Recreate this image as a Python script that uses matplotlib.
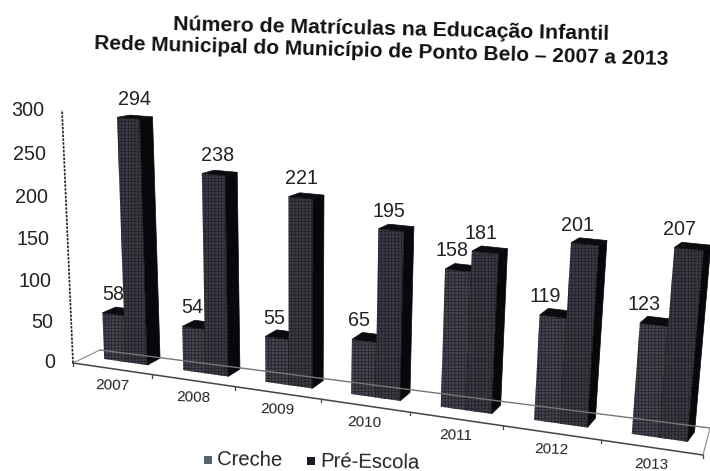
import numpy as np
import matplotlib
matplotlib.use('Agg')
import matplotlib.pyplot as plt

plt.rcParams['font.family'] = ['Liberation Sans', 'DejaVu Sans']
plt.rcParams['hatch.linewidth'] = 0.5

years = ['2007', '2008', '2009', '2010', '2011', '2012', '2013']
creche = [58, 54, 55, 65, 158, 119, 123]
pre_escola = [294, 238, 221, 195, 181, 201, 207]
y_ticks = [0, 50, 100, 150, 200, 250, 300]
title_1 = 'Número de Matrículas na Educação Infantil'
title_2 = 'Rede Municipal do Município de Ponto Belo – 2007 a 2013'

# the chart was photographed at an angle, so everything goes through a homography
src = [(0, 0), (1, 0), (0, 1), (1, 1)]
dst = [(73, 363), (703, 455), (62, 110), (729, 165)]

# how far "depth" moves a point, at the left and right end of the floor
bar_depth = ((27, -13), (14, -20))
floor_depth = ((27, -13), (7, -27))
bar_scale = 0.98


def solve_h(src, dst):
    A = []
    b = []
    for (u, v), (x, y) in zip(src, dst):
        A.append([u, v, 1, 0, 0, 0, -u * x, -v * x])
        A.append([0, 0, 0, u, v, 1, -u * y, -v * y])
        b += [x, y]
    h = np.linalg.solve(np.array(A, float), np.array(b, float))
    return np.append(h, 1).reshape(3, 3)


H = solve_h(src, dst)


def project(pos, val, depth=0.0, vec=bar_depth):
    # pos in category units, val in chart units, depth 0 front to 1 back
    u = pos / len(years)
    p = H @ np.array([u, val / 300, 1.0])
    x, y = p[:2] / p[2]
    x += depth * (vec[0][0] + (vec[1][0] - vec[0][0]) * u)
    y += depth * (vec[0][1] + (vec[1][1] - vec[0][1]) * u)
    return x, y


def back_of_top(pos, val, d0, d1):
    # the top face gets thinner the higher it is, seen from just above
    fx, fy = project(pos, val, d0)
    bx, by = project(pos, 0, d1)
    gx, gy = project(pos, 0, d0)
    return fx + (bx - gx), fy + (by - gy) * (1 - 0.7 * val / 300)


def draw_bar(ax, left, right, val, front_col, d0=0.5, d1=1.0):
    val = val * bar_scale
    tl = back_of_top(left, val, d0, d1)
    tr = back_of_top(right, val, d0, d1)
    front = [project(left, 0, d0), project(right, 0, d0), project(right, val, d0), project(left, val, d0)]
    side = [project(right, 0, d0), project(right, 0, d1), tr, project(right, val, d0)]
    top = [project(left, val, d0), project(right, val, d0), tr, tl]
    ax.fill(*zip(*front), facecolor=front_col, edgecolor='#22222a', hatch='+++++', linewidth=0)
    ax.fill(*zip(*side), color='#08080c', linewidth=0.5)
    ax.fill(*zip(*top), color='#0c0c10', linewidth=0.5)


fig = plt.figure(figsize=(7.1, 4.71), dpi=100)
ax = fig.add_axes([0, 0, 1, 1])
ax.set_xlim(0, 710)
ax.set_ylim(471, 0)
ax.axis('off')

n = len(years)

# floor and axis
ax.plot(*zip(project(0, 0), project(n, 0)), color='#444444', lw=1.1)
ax.plot(*zip(project(0, 0, 1, floor_depth), project(n, 0, 1, floor_depth)), color='#777777', lw=1.0)
ax.plot(*zip(project(0, 0), project(0, 0, 1, floor_depth)), color='#888888', lw=0.8)
ax.plot(*zip(project(n, 0), project(n, 0, 1, floor_depth)), color='#888888', lw=0.8)
ax.plot(*zip(project(0, 0), project(0, 300)), color='#222222', lw=1.2, ls=(0, (1.5, 0.8)))

for i in range(n + 1):
    x, y = project(i, 0)
    ax.plot([x, x], [y, y + 3], color='#444444', lw=0.9)

for t in y_ticks:
    x, y = project(0, t)
    ax.text(x - 18, y, str(t), ha='right', va='center', fontsize=14.2, color='#222222')

for i in range(n):
    draw_bar(ax, i + 0.23, i + 0.505, creche[i], '#44444c')
    draw_bar(ax, i + 0.505, i + 0.78, pre_escola[i], '#3a3a42')

    u = (i + 0.5) / n
    x, y = project(i + 0.365, creche[i] * bar_scale, 0.5)
    ax.text(x + 1 - 11 * u, y - 20, str(creche[i]), ha='center', va='center', fontsize=14.2, color='#222222')
    x, y = project(i + 0.64, pre_escola[i] * bar_scale, 0.5)
    ax.text(x + 8 - 19 * u, y - 19, str(pre_escola[i]), ha='center', va='center', fontsize=14.2, color='#222222')

    x, y = project(i + 0.5, 0)
    ax.text(x, y + 17, years[i], ha='center', va='center', fontsize=11, color='#222222', rotation=-2)

ax.text(391, 29, title_1, ha='center', va='center', fontsize=15.3, fontweight='bold', color='#111111',
        rotation=-1.3, rotation_mode='anchor')
ax.text(381, 52, title_2, ha='center', va='center', fontsize=15, fontweight='bold', color='#111111',
        rotation=-1.6, rotation_mode='anchor')

# legend
ax.scatter([208], [460], marker='s', s=40, color='#5a646e', linewidths=0)
ax.text(217, 460, 'Creche', ha='left', va='center', fontsize=14.6, color='#222222', rotation=-1)
ax.scatter([311], [461], marker='s', s=40, color='#1c1c22', linewidths=0)
ax.text(320, 462, 'Pré-Escola', ha='left', va='center', fontsize=14.6, color='#222222', rotation=-1)

fig.savefig('out.png', dpi=100)
